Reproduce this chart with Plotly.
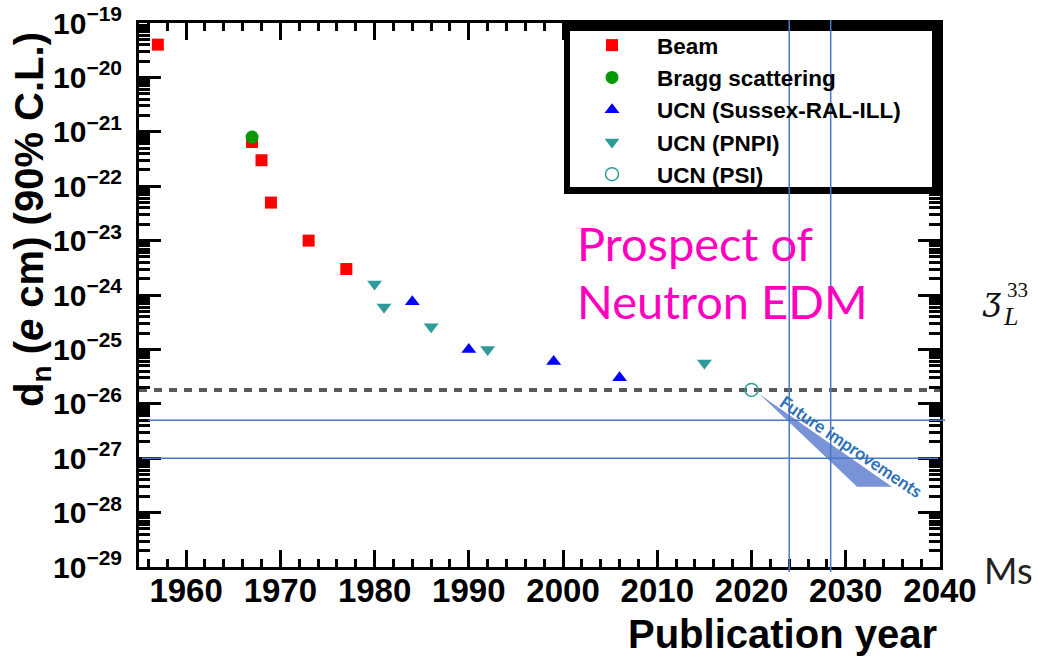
import plotly.graph_objects as go

# ---------------- data ----------------
beam_year = [1957, 1967, 1968, 1969, 1973, 1977]
beam_dn = [4e-20, 6.5e-22, 3e-22, 5e-23, 1e-23, 3e-24]

bragg_year = [1967]
bragg_dn = [8e-22]

sussex_year = [1984, 1990, 1999, 2006]
sussex_dn = [7.5e-25, 1e-25, 6e-26, 3e-26]

pnpi_year = [1980, 1981, 1986, 1992, 2015]
pnpi_dn = [1.6e-24, 6e-25, 2.6e-25, 1e-25, 5.6e-26]

psi_year = [2020]
psi_dn = [1.8e-26]

future_year = [2020.85, 2031.2, 2034.9]
future_dn = [1.5e-26, 3e-28, 3e-28]

current_limit = 1.8e-26
prospect_limits = [5e-27, 1e-27]
prospect_years = [2024.0, 2028.4]

x_range = [1955, 2040]
y_exponents = list(range(-29, -18))
y_tickvals = [10.0 ** e for e in y_exponents]
y_ticktext = ["10<sup>\u2212%d</sup>" % (-e) for e in y_exponents]

# ---------------- layout helpers (pixel -> paper) ----------------
W, H = 1038, 657
L, R, T, B = 139, 940, 23, 567


def px2x(px):
    return (px - L) / (R - L)


def px2y(py):
    return (B - py) / (B - T)


FONT = "Liberation Sans"
RED = "#ff0000"
GREEN = "#009900"
BLUE = "#0000ff"
TEAL = "#2e9a9a"
LINEBLUE = "#4a78c8"

fig = go.Figure()

fig.add_trace(go.Scatter(
    x=future_year, y=future_dn, fill="toself", mode="lines",
    fillcolor="#7893d6", line=dict(width=0, color="#7893d6"),
    showlegend=False, hoverinfo="skip"))

fig.add_trace(go.Scatter(
    x=beam_year, y=beam_dn, mode="markers", name="Beam", legendgroup="a",
    marker=dict(symbol="square", size=12, color=RED)))
fig.add_trace(go.Scatter(
    x=bragg_year, y=bragg_dn, mode="markers", name="Bragg scattering", legendgroup="b",
    marker=dict(symbol="circle", size=13, color=GREEN)))
fig.add_trace(go.Scatter(
    x=sussex_year, y=sussex_dn, mode="markers", name="UCN (Sussex-RAL-ILL)", legendgroup="c",
    marker=dict(symbol="triangle-up", size=13, color=BLUE)))
fig.add_trace(go.Scatter(
    x=pnpi_year, y=pnpi_dn, mode="markers", name="UCN (PNPI)", legendgroup="d",
    marker=dict(symbol="triangle-down", size=13, color=TEAL)))
fig.add_trace(go.Scatter(
    x=psi_year, y=psi_dn, mode="markers", name="UCN (PSI)", legendgroup="e",
    marker=dict(symbol="circle-open", size=13, color=TEAL, line=dict(width=1.5, color=TEAL))))

shapes = []
# current limit dashed line
shapes.append(dict(type="line", xref="x", yref="y", x0=x_range[0], x1=x_range[1],
                   y0=current_limit, y1=current_limit, layer="below",
                   line=dict(color="#5a5a5a", width=4, dash="8px,7px")))
# legend box with shadow
shapes.append(dict(type="rect", xref="paper", yref="paper", layer="above",
                   x0=px2x(564), x1=px2x(942), y0=px2y(194), y1=px2y(21),
                   fillcolor="black", line=dict(width=0)))
shapes.append(dict(type="rect", xref="paper", yref="paper", layer="above",
                   x0=px2x(570), x1=px2x(932), y0=px2y(187), y1=px2y(31),
                   fillcolor="white", line=dict(width=0)))
# prospect lines (overlay)
shapes.append(dict(type="line", xref="paper", yref="y", layer="above",
                   x0=px2x(148), x1=px2x(945), y0=prospect_limits[0], y1=prospect_limits[0],
                   line=dict(color=LINEBLUE, width=1.5)))
shapes.append(dict(type="line", xref="paper", yref="y", layer="above",
                   x0=px2x(142), x1=px2x(938), y0=prospect_limits[1], y1=prospect_limits[1],
                   line=dict(color=LINEBLUE, width=1.5)))
for yr in prospect_years:
    shapes.append(dict(type="line", xref="x", yref="paper", layer="above",
                       x0=yr, x1=yr, y0=px2y(572), y1=px2y(20),
                       line=dict(color=LINEBLUE, width=1.5)))

annotations = []
annotations.append(dict(
    xref="paper", yref="paper", x=px2x(32), y=px2y(220), textangle=-90,
    text="d<sub>n</sub> (<i>e</i> cm) (90% C.L.)", showarrow=False,
    font=dict(family=FONT, size=40, color="black", weight="bold"),
    xanchor="center", yanchor="middle"))
annotations.append(dict(
    xref="paper", yref="paper", x=px2x(939), y=px2y(610), xanchor="right", yanchor="top",
    text="Publication year", showarrow=False,
    font=dict(family=FONT, size=40, color="black", weight="bold")))
annotations.append(dict(
    xref="paper", yref="paper", x=px2x(575), y=px2y(213), xanchor="left", yanchor="top",
    text="Prospect of", showarrow=False,
    font=dict(family="Lato", size=47, color="#ff00c0")))
annotations.append(dict(
    xref="paper", yref="paper", x=px2x(575), y=px2y(271), xanchor="left", yanchor="top",
    text="Neutron EDM", showarrow=False,
    font=dict(family="Lato", size=47, color="#ff00c0")))
annotations.append(dict(
    xref="paper", yref="paper", x=px2x(851), y=px2y(446), xanchor="center", yanchor="middle",
    text="Future improvements", textangle=34, showarrow=False,
    font=dict(family="Lato", size=17.5, color="#2e6fb8", weight="bold")))
annotations.append(dict(
    xref="paper", yref="paper", x=px2x(982), y=px2y(570), xanchor="left", yanchor="middle",
    text="Ms", showarrow=False, font=dict(family="Lato", size=36, color="#222222")))
annotations.append(dict(
    xref="paper", yref="paper", x=px2x(991), y=px2y(299), xanchor="center", yanchor="middle",
    text="<i>ʒ</i>", showarrow=False, font=dict(family="DejaVu Serif", size=32, color="#111111")))
annotations.append(dict(
    xref="paper", yref="paper", x=px2x(1017), y=px2y(290), xanchor="center", yanchor="middle",
    text="33", showarrow=False, font=dict(family="Liberation Serif", size=21, color="#111111")))
annotations.append(dict(
    xref="paper", yref="paper", x=px2x(1010), y=px2y(316), xanchor="center", yanchor="middle",
    text="<i>L</i>", showarrow=False, font=dict(family="Liberation Serif", size=26, color="#111111")))

fig.update_layout(
    width=W, height=H,
    margin=dict(l=L, r=W - R, t=T, b=H - B, pad=0, autoexpand=False),
    paper_bgcolor="white", plot_bgcolor="white",
    font=dict(family=FONT, color="black"),
    shapes=shapes, annotations=annotations,
    legend=dict(
        x=px2x(567), y=px2y(24), xanchor="left", yanchor="top",
        bgcolor="rgba(0,0,0,0)", borderwidth=0,
        font=dict(family=FONT, size=22.5, color="black", weight="bold"),
        tracegroupgap=0, itemwidth=80),
    showlegend=True,
)

fig.update_xaxes(
    range=x_range, dtick=10, tick0=1960, showgrid=False, zeroline=False,
    showline=True, linecolor="black", linewidth=3, mirror="allticks",
    ticks="inside", ticklen=17, tickwidth=3, tickcolor="black",
    tickfont=dict(family=FONT, size=33, color="black", weight="bold"),
    ticklabelstandoff=-8,
    minor=dict(ticks="inside", ticklen=8, tickwidth=3, tickcolor="black", dtick=2, showgrid=False),
)
fig.update_yaxes(
    type="log", range=[y_exponents[0], y_exponents[-1]],
    tickmode="array", tickvals=y_tickvals, ticktext=y_ticktext,
    showgrid=False, zeroline=False,
    showline=True, linecolor="black", linewidth=3, mirror="allticks",
    ticks="inside", ticklen=22, tickwidth=3, tickcolor="black",
    tickfont=dict(family=FONT, size=30, color="black", weight="bold"),
    ticklabelstandoff=8,
    minor=dict(ticks="inside", ticklen=11, tickwidth=3, tickcolor="black", dtick="D1", showgrid=False),
)

fig.write_html("out.html", config={"displayModeBar": False},
               post_script="document.body.style.margin='0px';")
